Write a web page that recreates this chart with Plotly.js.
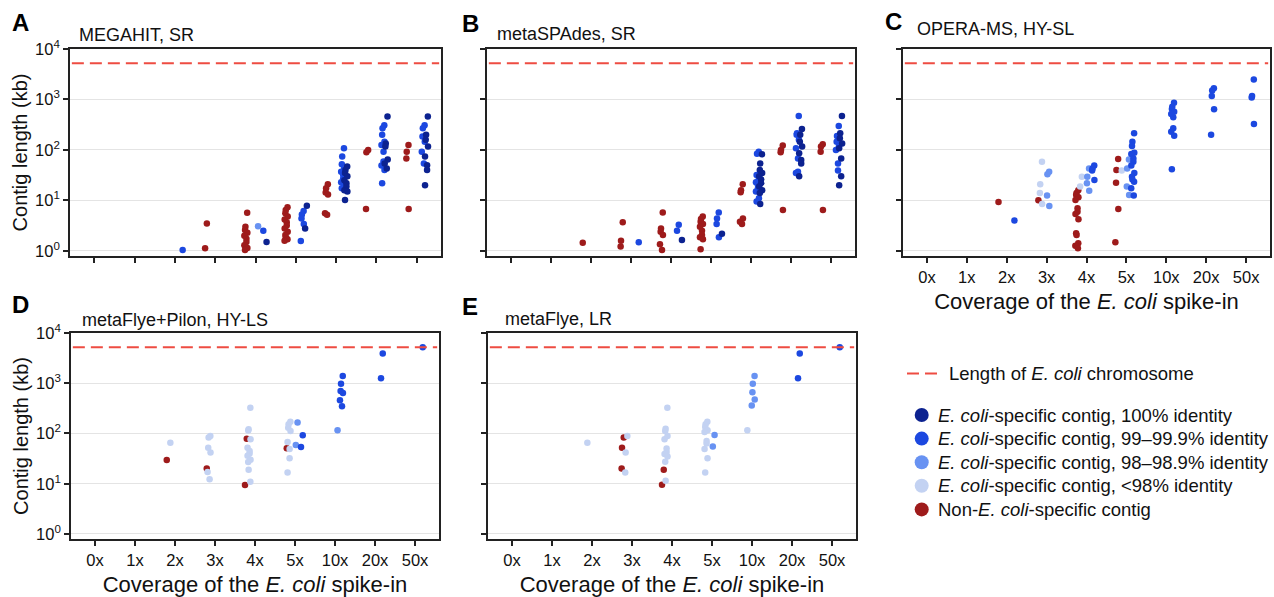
<!DOCTYPE html>
<html>
<head>
<meta charset="utf-8">
<script src="https://cdn.plot.ly/plotly-3.0.1.min.js"></script>
<style>
  html, body { margin: 0; padding: 0; background: #fff; }
  #chart { width: 1274px; height: 597px; }
</style>
</head>
<body>
<div id="chart"></div>
<script>
// ---------------- DATA ----------------
const categories = ['0x', '1x', '2x', '3x', '4x', '5x', '10x', '20x', '50x'];
const yTickVals = [1, 10, 100, 1000, 10000];
const yTickText = ['10<sup>0</sup>', '10<sup>1</sup>', '10<sup>2</sup>', '10<sup>3</sup>', '10<sup>4</sup>'];
const ecoliChromosomeKb = 5200;

const classLabels = [
  '<i>E. coli</i>-specific contig, 100% identity',
  '<i>E. coli</i>-specific contig, 99–99.9% identity',
  '<i>E. coli</i>-specific contig, 98–98.9% identity',
  '<i>E. coli</i>-specific contig, <98% identity',
  'Non-<i>E. coli</i>-specific contig'
];
const lineLabel = 'Length of <i>E. coli</i> chromosome';
const panelLetters = ['A', 'B', 'C', 'D', 'E'];
const panelTitles = ['MEGAHIT, SR', 'metaSPAdes, SR', 'OPERA-MS, HY-SL', 'metaFlye+Pilon, HY-LS', 'metaFlye, LR'];
const yTitle = 'Contig length (kb)';
const xTitle = 'Coverage of the <i>E. coli</i> spike-in';

// Contig lengths (kb) per coverage level
// A: MEGAHIT, SR
const megahitId100 = [['4x', [1.5]], ['5x', [7.9, 2.8]], ['10x', [47, 40, 35, 30, 25, 22, 19, 16, 15, 10.2]],
  ['20x', [460, 135, 117, 65, 54, 43]], ['50x', [460, 200, 160, 117, 74, 50, 40, 20]]];
const megahitId99 = [['2x', [1.05]], ['4x', [2.5]], ['5x', [6.2, 5.3, 4.4, 3.4, 1.58]],
  ['10x', [108, 74, 52, 43, 37, 32, 27, 23, 20, 17.5]], ['20x', [310, 270, 200, 145, 125, 92, 59, 49, 40, 22]],
  ['50x', [310, 270, 185, 145, 92, 54]]];
const megahitId98 = [['4x', [3.1]]];
const megahitIdLow = [];
const megahitNon = [['3x', [3.5, 1.13]], ['4x', [5.7, 3.0, 2.6, 2.3, 2.0, 1.75, 1.5, 1.3, 1.15, 1.05]],
  ['5x', [7.3, 6.5, 5.6, 4.8, 4.2, 3.7, 3.2, 2.8, 2.4, 2.07, 1.87, 1.7, 1.6]],
  ['10x', [21, 17.5, 14.3, 13.2, 5.6, 5.2]], ['20x', [100, 90, 6.8]], ['50x', [125, 92, 68, 6.8]]];

// B: metaSPAdes, SR
const spadesId100 = [['4x', [1.65]], ['5x', [2.2]], ['10x', [82, 54, 40, 35, 30, 26, 22, 19, 16, 14, 8.5]],
  ['20x', [260, 200, 145, 117, 86, 63, 54, 30]], ['50x', [470, 215, 170, 135, 108, 68, 30, 20]]];
const spadesId99 = [['3x', [1.48]], ['4x', [3.3, 2.5]], ['5x', [5.8, 4.4, 3.4, 1.87]],
  ['10x', [92, 84, 32, 27, 23, 20, 17.5, 15, 11, 9.5]], ['20x', [470, 215, 200, 160, 108, 68, 37, 35]],
  ['50x', [300, 190, 145, 117, 100, 54, 39]]];
const spadesId98 = [];
const spadesIdLow = [];
const spadesNon = [['2x', [1.46]], ['3x', [3.7, 1.6, 1.22]], ['4x', [5.8, 2.8, 2.4, 2.07, 1.35, 1.05]],
  ['5x', [4.8, 4.3, 3.8, 3.4, 3.0, 2.5, 2.07, 1.87, 1.7, 1.08]], ['10x', [21, 16, 14.5, 4.4, 3.8, 3.4]],
  ['20x', [122, 100, 90, 6.5]], ['50x', [130, 117, 92, 6.5]]];

// C: OPERA-MS, HY-SL
const operaId100 = [];
const operaId99 = [['2x', [4.0]], ['4x', [49, 43, 39, 25.5]],
  ['5x', [215, 145, 120, 88, 83, 68, 58.5, 49, 35, 29.5, 26, 23.5, 17.5, 12.5]],
  ['10x', [865, 720, 646, 573, 516, 444, 269, 230, 192, 41.5]], ['20x', [1670, 1500, 1170, 640, 200]],
  ['50x', [2500, 1172, 1095, 327]]];
const operaId98 = [['3x', [37, 33, 12.5, 7.8]], ['4x', [43, 29.5, 22, 15.5]], ['5x', [65, 43, 18.8, 12.9]]];
const operaIdLow = [['3x', [58.5, 21, 14, 8.5]], ['4x', [29.5, 18.8]], ['5x', [39]]];
const operaNon = [['2x', [9.3]], ['3x', [10.1]],
  ['4x', [16, 14, 12.8, 11.6, 10.2, 7.0, 6.0, 5.4, 4.25, 2.24, 2.07, 1.42, 1.27, 1.13]],
  ['5x', [66, 40, 22.5, 6.8, 1.49]]];

// D: metaFlye+Pilon, HY-LS
const pilonId100 = [];
const pilonId99 = [['5x', [92, 54]], ['10x', [1390, 980, 700, 640, 460, 350]], ['20x', [3900, 1260]], ['50x', [5200]]];
const pilonId98 = [['5x', [165, 59]], ['10x', [116]]];
const pilonIdLow = [['2x', [65.7]], ['3x', [89, 83, 52, 42, 17.2, 12.3]],
  ['4x', [325, 121, 115, 77, 52, 45, 40, 36, 30, 27, 19, 10.9]],
  ['5x', [172, 152, 130, 112, 68, 49, 32, 16.7]]];
const pilonNon = [['2x', [29.8]], ['3x', [20]], ['4x', [79, 9.4]], ['5x', [51]]];

// E: metaFlye, LR
const flyeId100 = [];
const flyeId99 = [['20x', [3900, 1260]], ['50x', [5200]]];
const flyeId98 = [['5x', [93, 55]], ['10x', [1390, 980, 660, 475, 360]]];
const flyeIdLow = [['2x', [65.7]], ['3x', [89, 42, 16.7]],
  ['4x', [325, 124, 112, 89, 77, 50, 43, 39, 35, 27.5, 11.4]],
  ['5x', [172, 152, 134, 116, 107, 71, 63, 49, 32, 16.7]], ['10x', [116]]];
const flyeNon = [['3x', [83, 52, 20]], ['4x', [19, 9.5]]];

// ---------------- STYLE / LAYOUT ----------------
const W = 1274, H = 597;
const FONT = '"Liberation Sans", Arial, "DejaVu Sans", sans-serif';
const classColors = ['#0c2290', '#1c48e0', '#6892f2', '#c3d2f2', '#9e1b1b'];
const classOffsets = [0.24, 0.16, 0.03, -0.15, -0.24];
const dashColor = '#ee4c42';
const axisColor = '#222';

const panelData = [
  [megahitId100, megahitId99, megahitId98, megahitIdLow, megahitNon],
  [spadesId100, spadesId99, spadesId98, spadesIdLow, spadesNon],
  [operaId100, operaId99, operaId98, operaIdLow, operaNon],
  [pilonId100, pilonId99, pilonId98, pilonIdLow, pilonNon],
  [flyeId100, flyeId99, flyeId98, flyeIdLow, flyeNon]
];
// plot boxes in pixels: [left, right, top, bottom]
const boxes = [[70, 441, 49, 256], [487, 855, 49, 256], [903, 1270, 49, 256],
               [71, 439, 333, 539], [488, 856, 333, 539]];
const letterPos = [[10, 22.5], [460, 23], [883, 22], [10, 304.5], [460, 306]];
const titlePos = [[76.7, 35], [495, 33.5], [915, 29.5], [80, 319.5], [503, 319]];
const showYLabels = [true, false, false, true, false];
const showXLabels = [false, false, true, true, true];

const fx = px => px / W;
const fy = py => 1 - py / H;

const traces = [];
const drawOrder = [4, 3, 2, 1, 0];
panelData.forEach((classes, p) => {
  const sfx = p === 0 ? '' : String(p + 1);
  drawOrder.forEach(c => {
    const xs = [], ys = [];
    classes[c].forEach(([cat, vals]) => {
      const ci = categories.indexOf(cat);
      vals.forEach((v, k) => {
        xs.push(ci + classOffsets[c] + 0.04 * Math.sin(1 + k * 2.39));
        ys.push(v);
      });
    });
    if (!xs.length) return;
    traces.push({
      type: 'scatter', mode: 'markers', x: xs, y: ys,
      xaxis: 'x' + sfx, yaxis: 'y' + sfx,
      marker: { size: 6.5, color: classColors[c], line: { width: 0 } },
      name: classLabels[c], showlegend: false, hoverinfo: 'x+y'
    });
  });
});

const layout = {
  width: W, height: H,
  margin: { l: 0, r: 0, t: 0, b: 0 },
  paper_bgcolor: '#fff', plot_bgcolor: '#fff',
  font: { family: FONT, color: '#111', size: 16 },
  showlegend: false,
  shapes: [], annotations: []
};

boxes.forEach((b, p) => {
  const sfx = p === 0 ? '' : String(p + 1);
  const xa = {
    domain: [fx(b[0]), fx(b[1])], anchor: 'y' + sfx,
    range: [-0.6, 8.6], tickmode: 'array', tickvals: categories.map((_, i) => i), ticktext: categories,
    showticklabels: showXLabels[p], ticks: 'outside', ticklen: 5, tickwidth: 1.5, tickcolor: axisColor,
    showline: true, linecolor: axisColor, linewidth: 1.6, mirror: true,
    showgrid: false, zeroline: false, fixedrange: true,
    tickfont: { size: 16.5, family: FONT, color: '#111' }
  };
  if (showXLabels[p]) xa.title = { text: xTitle, font: { size: 22, family: FONT, color: '#111' }, standoff: 9 };
  const ya = {
    domain: [fy(b[3]), fy(b[2])], anchor: 'x' + sfx, type: 'log',
    range: [-0.1, 4], tickmode: 'array', tickvals: yTickVals, ticktext: yTickText,
    showticklabels: showYLabels[p], ticks: 'outside', ticklen: 5, tickwidth: 1.5, tickcolor: axisColor,
    showline: true, linecolor: axisColor, linewidth: 1.6, mirror: true,
    showgrid: true, gridcolor: '#e4e4e4', gridwidth: 1, zeroline: false, fixedrange: true,
    tickfont: { size: 16.5, family: FONT, color: '#111' }
  };
  if (showYLabels[p]) ya.title = { text: yTitle, font: { size: 20, family: FONT, color: '#111' }, standoff: 2 };
  layout['xaxis' + sfx] = xa;
  layout['yaxis' + sfx] = ya;

  // E. coli chromosome length reference line (data value on the log axis)
  layout.shapes.push({
    type: 'line', xref: 'x' + sfx + ' domain', yref: 'y' + sfx,
    x0: 0.005, x1: 0.995, y0: ecoliChromosomeKb, y1: ecoliChromosomeKb,
    line: { color: dashColor, width: 2, dash: '12px,6px' }
  });

  layout.annotations.push({
    xref: 'paper', yref: 'paper', x: fx(letterPos[p][0]), y: fy(letterPos[p][1]),
    xanchor: 'left', yanchor: 'middle', showarrow: false, text: panelLetters[p],
    font: { size: 24, family: FONT, color: '#000', weight: 'bold' }
  });
  layout.annotations.push({
    xref: 'paper', yref: 'paper', x: fx(titlePos[p][0]), y: fy(titlePos[p][1]),
    xanchor: 'left', yanchor: 'middle', showarrow: false, text: panelTitles[p],
    font: { size: 18, family: FONT, color: '#111' }
  });
});

// Legend (drawn manually)
const legLineY = 373.5;
layout.shapes.push({
  type: 'line', xref: 'paper', yref: 'paper', x0: fx(907), x1: fx(938), y0: fy(legLineY), y1: fy(legLineY),
  line: { color: dashColor, width: 2, dash: '12px,6px' }
});
layout.annotations.push({
  xref: 'paper', yref: 'paper', x: fx(947), y: fy(legLineY), xanchor: 'left', yanchor: 'middle',
  showarrow: false, text: lineLabel, font: { size: 18.5, family: FONT, color: '#111' }
});
const legY0 = 415, legStep = 23.6, legCx = 921.7, legR = 7;
classLabels.forEach((lab, i) => {
  const cy = legY0 + i * legStep;
  layout.shapes.push({
    type: 'circle', xref: 'paper', yref: 'paper', xsizemode: 'pixel', ysizemode: 'pixel',
    xanchor: fx(legCx), yanchor: fy(cy), x0: -legR, x1: legR, y0: -legR, y1: legR,
    fillcolor: classColors[i], line: { width: 0 }
  });
  layout.annotations.push({
    xref: 'paper', yref: 'paper', x: fx(935.5), y: fy(cy), xanchor: 'left', yanchor: 'middle',
    showarrow: false, text: lab, font: { size: 18.5, family: FONT, color: '#111' }
  });
});

Plotly.newPlot('chart', traces, layout, { displayModeBar: false, responsive: false });
</script>
</body>
</html>
